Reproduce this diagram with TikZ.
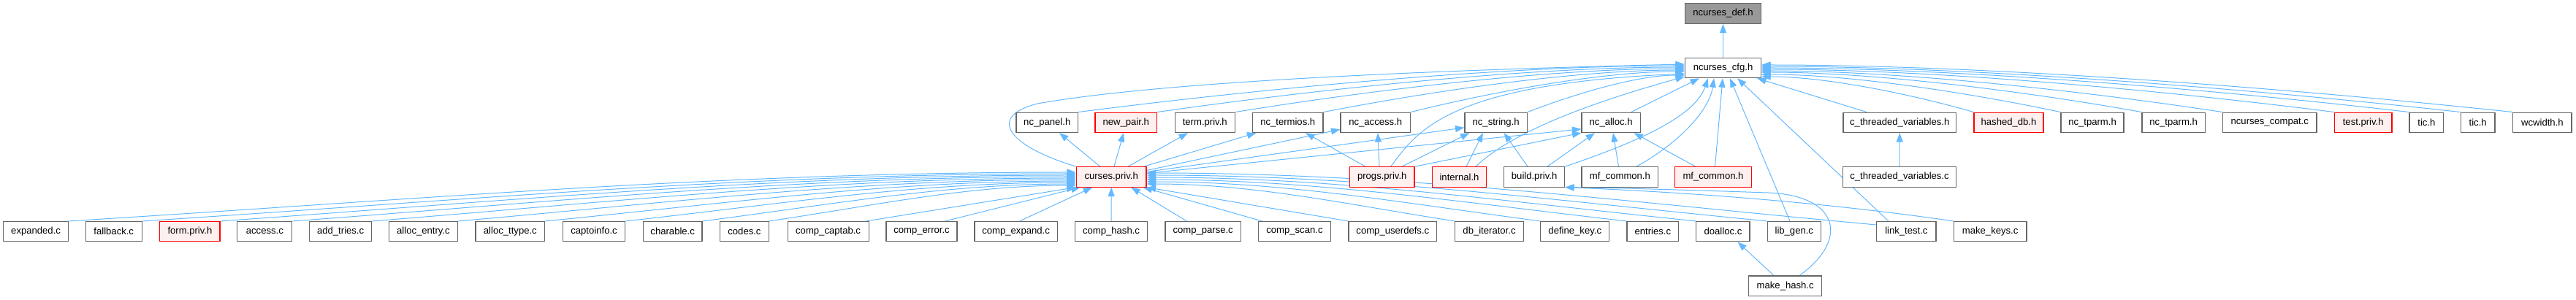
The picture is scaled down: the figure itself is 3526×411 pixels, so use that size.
\documentclass[tikz,border=0pt]{standalone}
\usepackage{fontspec}
\usetikzlibrary{arrows.meta}
\newfontfamily\lsans{Liberation Sans}
\definecolor{edgeblue}{HTML}{63B8FF}
\definecolor{nodeborder}{HTML}{666666}
\definecolor{rootfill}{HTML}{999999}
\definecolor{redfill}{HTML}{FFF0F0}
\pgfdeclarelayer{bg}
\pgfsetlayers{bg,main}
\tikzset{
  box/.style={draw=nodeborder, fill=white, line width=1.1pt, rectangle, inner sep=0pt,
    minimum height=27.4pt, text=black, font={\lsans\fontsize{13.1}{15}\selectfont}},
  redbox/.style={box, draw=red, fill=redfill},
  rootbox/.style={box, fill=rootfill},
  edge/.style={draw=edgeblue, line width=1pt, -{Triangle[length=12.5pt,width=9pt]}},
}
\begin{document}
\begin{tikzpicture}[x=1pt,y=-1pt]
\useasboundingbox (0,0) rectangle (3526,411);
% row 0/1
\node[rootbox,minimum width=104pt] (def) at (2358.5,18.5) {ncurses\_def.h};
\node[box,minimum width=104pt] (cfg) at (2358.5,93) {ncurses\_cfg.h};
% row 2
\node[box,minimum width=84.5pt] (panel) at (1433.25,167.8) {nc\_panel.h};
\node[redbox,minimum width=84.5pt] (newpair) at (1541.25,167.8) {new\_pair.h};
\node[box,minimum width=82pt] (termpriv) at (1649.25,167.8) {term.priv.h};
\node[box,minimum width=96.5pt] (termios) at (1762.75,167.8) {nc\_termios.h};
\node[box,minimum width=95.4pt] (access) at (1882.7,167.8) {nc\_access.h};
\node[box,minimum width=85.3pt] (string) at (2047.65,167.8) {nc\_string.h};
\node[box,minimum width=80.3pt] (alloc) at (2205.15,167.8) {nc\_alloc.h};
\node[box,minimum width=154.5pt] (cthrh) at (2600.25,167.8) {c\_threaded\_variables.h};
\node[redbox,minimum width=95pt] (hashed) at (2749.5,167.8) {hashed\_db.h};
\node[box,minimum width=86pt] (tparmA) at (2864,167.8) {nc\_tparm.h};
\node[box,minimum width=86.2pt] (tparmB) at (2975.1,167.8) {nc\_tparm.h};
\node[box,minimum width=128.5pt] (compat) at (3106.75,167.8) {ncurses\_compat.c};
\node[redbox,minimum width=78.6pt] (testpriv) at (3234.7,167.8) {test.priv.h};
\node[box,minimum width=46.7pt] (ticA) at (3321.35,167.8) {tic.h};
\node[box,minimum width=46.7pt] (ticB) at (3391.65,167.8) {tic.h};
\node[box,minimum width=80.3pt] (wcwidth) at (3479.85,167.8) {wcwidth.h};
% row 3
\node[redbox,minimum width=95.7pt] (curses) at (1521.15,242.4) {curses.priv.h};
\node[redbox,minimum width=88.5pt] (progs) at (1891.75,242.4) {progs.priv.h};
\node[redbox,minimum width=74.6pt] (internal) at (1997.5,242.4) {internal.h};
\node[box,minimum width=83pt] (build) at (2100.1,242.4) {build.priv.h};
\node[box,minimum width=104.8pt] (mfc) at (2217.4,242.4) {mf\_common.h};
\node[redbox,minimum width=104.4pt] (mfcr) at (2345,242.4) {mf\_common.h};
\node[box,minimum width=155.4pt] (cthrc) at (2600,242.4) {c\_threaded\_variables.c};
% row 4
\node[box,minimum width=88.4pt] (expanded) at (49.1,317.2) {expanded.c};
\node[box,minimum width=77.1pt] (fallback) at (155.75,317.2) {fallback.c};
\node[redbox,minimum width=82.1pt] (formpriv) at (259.95,317.2) {form.priv.h};
\node[box,minimum width=75.1pt] (accessc) at (362.35,317.2) {access.c};
\node[box,minimum width=84.9pt] (addtries) at (466.15,317.2) {add\_tries.c};
\node[box,minimum width=94.1pt] (allocentry) at (579.45,317.2) {alloc\_entry.c};
\node[box,minimum width=94.7pt] (allocttype) at (698.35,317.2) {alloc\_ttype.c};
\node[box,minimum width=85.5pt] (captoinfo) at (813.05,317.2) {captoinfo.c};
\node[box,minimum width=80.6pt] (charable) at (920.7,317.2) {charable.c};
\node[box,minimum width=66.7pt] (codes) at (1018.95,317.2) {codes.c};
\node[box,minimum width=111pt] (compcaptab) at (1133.6,317.2) {comp\_captab.c};
\node[box,minimum width=97pt] (comperror) at (1261.5,317.2) {comp\_error.c};
\node[box,minimum width=113.2pt] (compexpand) at (1390.6,317.2) {comp\_expand.c};
\node[box,minimum width=99.5pt] (comphash) at (1521.05,317.2) {comp\_hash.c};
\node[box,minimum width=103.3pt] (compparse) at (1646.65,317.2) {comp\_parse.c};
\node[box,minimum width=99.1pt] (compscan) at (1771.95,317.2) {comp\_scan.c};
\node[box,minimum width=120.7pt] (compuserdefs) at (1906.35,317.2) {comp\_userdefs.c};
\node[box,minimum width=93.8pt] (dbiter) at (2038.5,317.2) {db\_iterator.c};
\node[box,minimum width=94.1pt] (definekey) at (2155.75,317.2) {define\_key.c};
\node[box,minimum width=70.7pt] (entries) at (2262.35,317.2) {entries.c};
\node[box,minimum width=73.1pt] (doalloc) at (2358.45,317.2) {doalloc.c};
\node[box,minimum width=73pt] (libgen) at (2455.8,317.2) {lib\_gen.c};
\node[box,minimum width=81.3pt] (linktest) at (2609.35,317.2) {link\_test.c};
\node[box,minimum width=99.7pt] (makekeys) at (2724.15,317.2) {make\_keys.c};
% row 5
\node[box,minimum width=99.5pt] (makehash) at (2443.65,391.7) {make\_hash.c};

\begin{pgfonlayer}{bg}
\draw[edge] (cfg.north) -- (def.south);
% row 2 (left) -> cfg
\draw[edge] (panel.north east) .. controls +(249,-32) and +(-249,0) .. ([yshift=3pt]cfg.west);
\draw[edge] (newpair.north east) .. controls +(217,-31) and +(-217,0) .. ([yshift=1pt]cfg.west);
\draw[edge] (termpriv.north east) .. controls +(185,-30) and +(-185,0) .. ([yshift=-1pt]cfg.west);
\draw[edge] (termios.north east) .. controls +(149,-29) and +(-149,0) .. ([yshift=-3pt]cfg.west);
\draw[edge] (access.north east) .. controls +(113,-28) and +(-113,0) .. ([yshift=-5pt]cfg.west);
\draw[edge] (string.north east) .. controls +(65,-25) and +(-65,0) .. ([yshift=-10pt]cfg.west);
\draw[edge] ([xshift=27.5pt]alloc.north) -- ([xshift=-32.5pt]cfg.south);
% row 2 (right) -> cfg
\draw[edge] ([xshift=-45.25pt]cthrh.north) -- ([xshift=-6pt]cfg.south east);
\draw[edge] (hashed.north west) .. controls +(-87,-25) and +(87,0) .. ([yshift=-12pt]cfg.east);
\draw[edge] (tparmA.north west) .. controls +(-123,-26) and +(123,0) .. ([yshift=-9pt]cfg.east);
\draw[edge] (tparmB.north west) .. controls +(-156,-28) and +(156,0) .. ([yshift=-6pt]cfg.east);
\draw[edge] (compat.north west) .. controls +(-190,-29) and +(190,0) .. ([yshift=-4pt]cfg.east);
\draw[edge] (testpriv.north west) .. controls +(-235,-30) and +(235,0) .. ([yshift=-2pt]cfg.east);
\draw[edge] (ticA.north west) .. controls +(-266,-31) and +(266,0) .. (cfg.east);
\draw[edge] (ticB.north west) .. controls +(-287,-32) and +(287,0) .. ([yshift=2pt]cfg.east);
\draw[edge] (wcwidth.north west) .. controls +(-309,-33) and +(309,0) .. ([yshift=4pt]cfg.east);
% curses.priv.h
\draw[edge] (curses.north west) .. controls (1380,200) and (1350,160) .. (1420,142) .. controls (1600,110) and (2000,95) .. ([yshift=5pt]cfg.west);
\draw[edge] ([xshift=-15.35pt]curses.north) -- ([xshift=16.75pt]panel.south);
\draw[edge] ([xshift=3.85pt]curses.north) -- ([xshift=-3.25pt]newpair.south);
\draw[edge] ([xshift=22.85pt]curses.north) -- ([xshift=-23.25pt]termpriv.south);
\draw[edge] ([xshift=-4pt]curses.north east) -- ([xshift=5.5pt]termios.south west);
\draw[edge] ([yshift=9pt]curses.east) -- ([yshift=-9.5pt]access.west);
\draw[edge] ([yshift=7pt]curses.east) -- ([yshift=-7pt]string.west);
\draw[edge] ([yshift=5pt]curses.east) -- ([yshift=-9pt]alloc.west);
% progs.priv.h
\draw[edge] ([xshift=-22.75pt]progs.north) -- ([xshift=24.25pt]termios.south);
\draw[edge] ([xshift=-3.75pt]progs.north) -- ([xshift=3.3pt]access.south);
\draw[edge] ([xshift=11.85pt]progs.north) .. controls (1940,180) and (1980,115) .. ([yshift=-8pt]cfg.west);
\draw[edge] ([xshift=27.25pt]progs.north) -- ([xshift=7pt]string.south west);
\draw[edge] (progs.north east) -- (alloc.south west);
% internal.h
\draw[edge] ([xshift=9.5pt]internal.north) -- ([xshift=-17.65pt]string.south);
\draw[edge] ([xshift=22.5pt]internal.north) .. controls (2070,180) and (2180,140) .. ([yshift=-12pt]cfg.west);
% build.priv.h
\draw[edge] ([xshift=-9.1pt]build.north) -- ([xshift=10.95pt]string.south);
\draw[edge] ([xshift=17.9pt]build.north) -- ([xshift=-22.15pt]alloc.south);
\draw[edge] (build.north east) .. controls (2240,195) and (2320,160) .. ([xshift=-20.5pt]cfg.south);
% mf_common.h
\draw[edge] ([xshift=-1.9pt]mfc.north) -- ([xshift=2.85pt]alloc.south);
\draw[edge] ([xshift=22.6pt]mfc.north) .. controls (2300,195) and (2340,150) .. ([xshift=-12.5pt]cfg.south);
\draw[edge] ([xshift=-24.3pt]mfcr.north) -- ([xshift=31.35pt]alloc.south);
\draw[edge] ([xshift=2.5pt]mfcr.north) -- ([xshift=-0.5pt]cfg.south);
% lib_gen, link_test -> cfg
\draw[edge] ([xshift=-5.8pt]libgen.north) -- ([xshift=9.5pt]cfg.south);
\draw[edge] ([xshift=-24.35pt]linktest.north) -- ([xshift=19.5pt]cfg.south);
\draw[edge] (cthrc.north) -- (cthrh.south);
% row 4 left fan -> curses
\draw[edge] (expanded.north east) .. controls +(483,-30) and +(-483,0) .. ([yshift=6.4pt]curses.west);
\draw[edge] (fallback.north east) .. controls +(448,-29) and +(-448,0) .. ([yshift=4.4pt]curses.west);
\draw[edge] (formpriv.north east) .. controls +(410,-29) and +(-410,0) .. ([yshift=2.4pt]curses.west);
\draw[edge] (accessc.north east) .. controls +(376,-28) and +(-376,0) .. ([yshift=0.4pt]curses.west);
\draw[edge] (addtries.north east) .. controls +(338,-27) and +(-338,0) .. ([yshift=-1.6pt]curses.west);
\draw[edge] (allocentry.north east) .. controls +(296,-26) and +(-296,0) .. ([yshift=-3.6pt]curses.west);
\draw[edge] (allocttype.north east) .. controls +(255,-25) and +(-255,0) .. ([yshift=-5.6pt]curses.west);
\draw[edge] (captoinfo.north east) .. controls +(216,-24) and +(-216,0) .. ([yshift=-7.6pt]curses.west);
\draw[edge] (charable.north east) .. controls +(179,-23) and +(-179,0) .. ([yshift=-9.6pt]curses.west);
\draw[edge] (codes.north east) .. controls +(147,-22) and +(-147,0) .. ([yshift=-11.6pt]curses.west);
\draw[edge] ([xshift=-4pt]compcaptab.north east) -- (curses.south west);
\draw[edge] ([xshift=32pt]comperror.north) -- ([xshift=6pt]curses.south west);
\draw[edge] ([xshift=5pt]compexpand.north) -- ([xshift=-26pt]curses.south);
\draw[edge] (comphash.north) -- (curses.south);
\draw[edge] ([xshift=-22.25pt]compparse.north) -- ([xshift=27pt]curses.south);
\draw[edge] ([xshift=-44.25pt]compscan.north) -- ([xshift=-5pt]curses.south east);
\draw[edge] (compuserdefs.north west) -- (curses.south east);
% row 4 right fan -> curses
\draw[edge] (dbiter.north west) .. controls +(-148,-23) and +(148,0) .. ([yshift=-9.6pt]curses.east);
\draw[edge] (definekey.north west) .. controls +(-189,-25) and +(189,0) .. ([yshift=-6.6pt]curses.east);
\draw[edge] (entries.north west) .. controls +(-230,-26) and +(230,0) .. ([yshift=-3.6pt]curses.east);
\draw[edge] (doalloc.north west) .. controls +(-264,-27) and +(264,0) .. ([yshift=-0.6pt]curses.east);
\draw[edge] (libgen.north west) .. controls +(-298,-29) and +(298,0) .. ([yshift=2.4pt]curses.east);
\draw[edge] ([yshift=9.2pt]linktest.west) .. controls +(-350,-32) and +(350,0) .. ([yshift=5.4pt]curses.east);
% build.priv.h includers
\draw[edge] (makekeys.north west) .. controls +(-150,-22) and +(200,8) .. (build.south east);
\draw[edge] ([xshift=19.35pt]makehash.north) .. controls (2530,330) and (2520,268) .. (2420,264) .. controls (2300,260) and (2200,257) .. (build.south east);
\draw[edge] ([xshift=-15.65pt]makehash.north) -- ([xshift=20pt]doalloc.south);
\end{pgfonlayer}
\end{tikzpicture}
\end{document}
